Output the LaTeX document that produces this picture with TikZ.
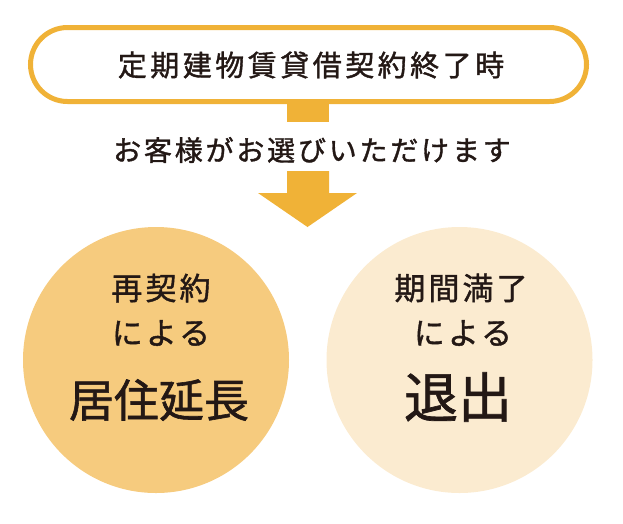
\documentclass[tikz,border=0pt]{standalone}
\usepackage{fontspec}
\newfontfamily\jp{Noto Sans CJK JP}[FakeBold=1.3]
\newfontfamily\jpsp{Noto Sans CJK JP}[LetterSpace=10,FakeBold=1.3]
\newfontfamily\jpwide{Noto Sans CJK JP}[LetterSpace=12,FakeBold=1.3]
\definecolor{accent}{HTML}{F0B237}
\definecolor{warmfill}{HTML}{F6CB7E}
\definecolor{palefill}{HTML}{FBEBD0}
\definecolor{ink}{HTML}{231815}
\begin{document}
\begin{tikzpicture}[x=1pt,y=-1pt,
  pill/.style={draw=accent, line width=5pt, rounded corners=37pt, minimum width=556pt, minimum height=74pt, inner sep=0pt},
  disc/.style={circle, minimum size=266pt, inner sep=0pt},
  label/.style={text=ink, inner sep=0pt, anchor=center},
  ]
\useasboundingbox (0,0) rectangle (623,523);
\node[pill] (top) at (308.5,64.5) {};
\node[label, font={\jpwide\fontsize{29}{29}\selectfont}] (toptext) at (311,65) {定期建物賃貸借契約終了時};
\node[fill=accent, minimum width=42pt, minimum height=20pt, inner sep=0pt] (stem) at (308,112) {};
\node[label, font={\jpsp\fontsize{28}{28}\selectfont}] (choice) at (312,150) {お客様がお選びいただけます};
\coordinate (arrowtop) at (308,171);
\fill[accent] (287,171) -- (329,171) -- (329,193) -- (357,193) -- (307.5,227) -- (258,193) -- (287,193) -- cycle;
\node[disc, fill=warmfill] (left) at (156,360) {};
\node[disc, fill=palefill] (right) at (459.5,360) {};
\node[label, font={\jpsp\fontsize{31}{31}\selectfont}] (l1) at (161,288) {再契約};
\node[label, font={\jpsp\fontsize{31}{31}\selectfont}] (l2) at (161,333) {による};
\node[label, font={\jp\fontsize{45}{45}\selectfont}] (l3) at (159,400) {居住延長};
\node[label, font={\jpsp\fontsize{31}{31}\selectfont}] (r1) at (461,288) {期間満了};
\node[label, font={\jpsp\fontsize{31}{31}\selectfont}] (r2) at (463,333) {による};
\node[label, font={\jp\fontsize{54}{54}\selectfont}] (r3) at (458,397) {退出};
\end{tikzpicture}
\end{document}
